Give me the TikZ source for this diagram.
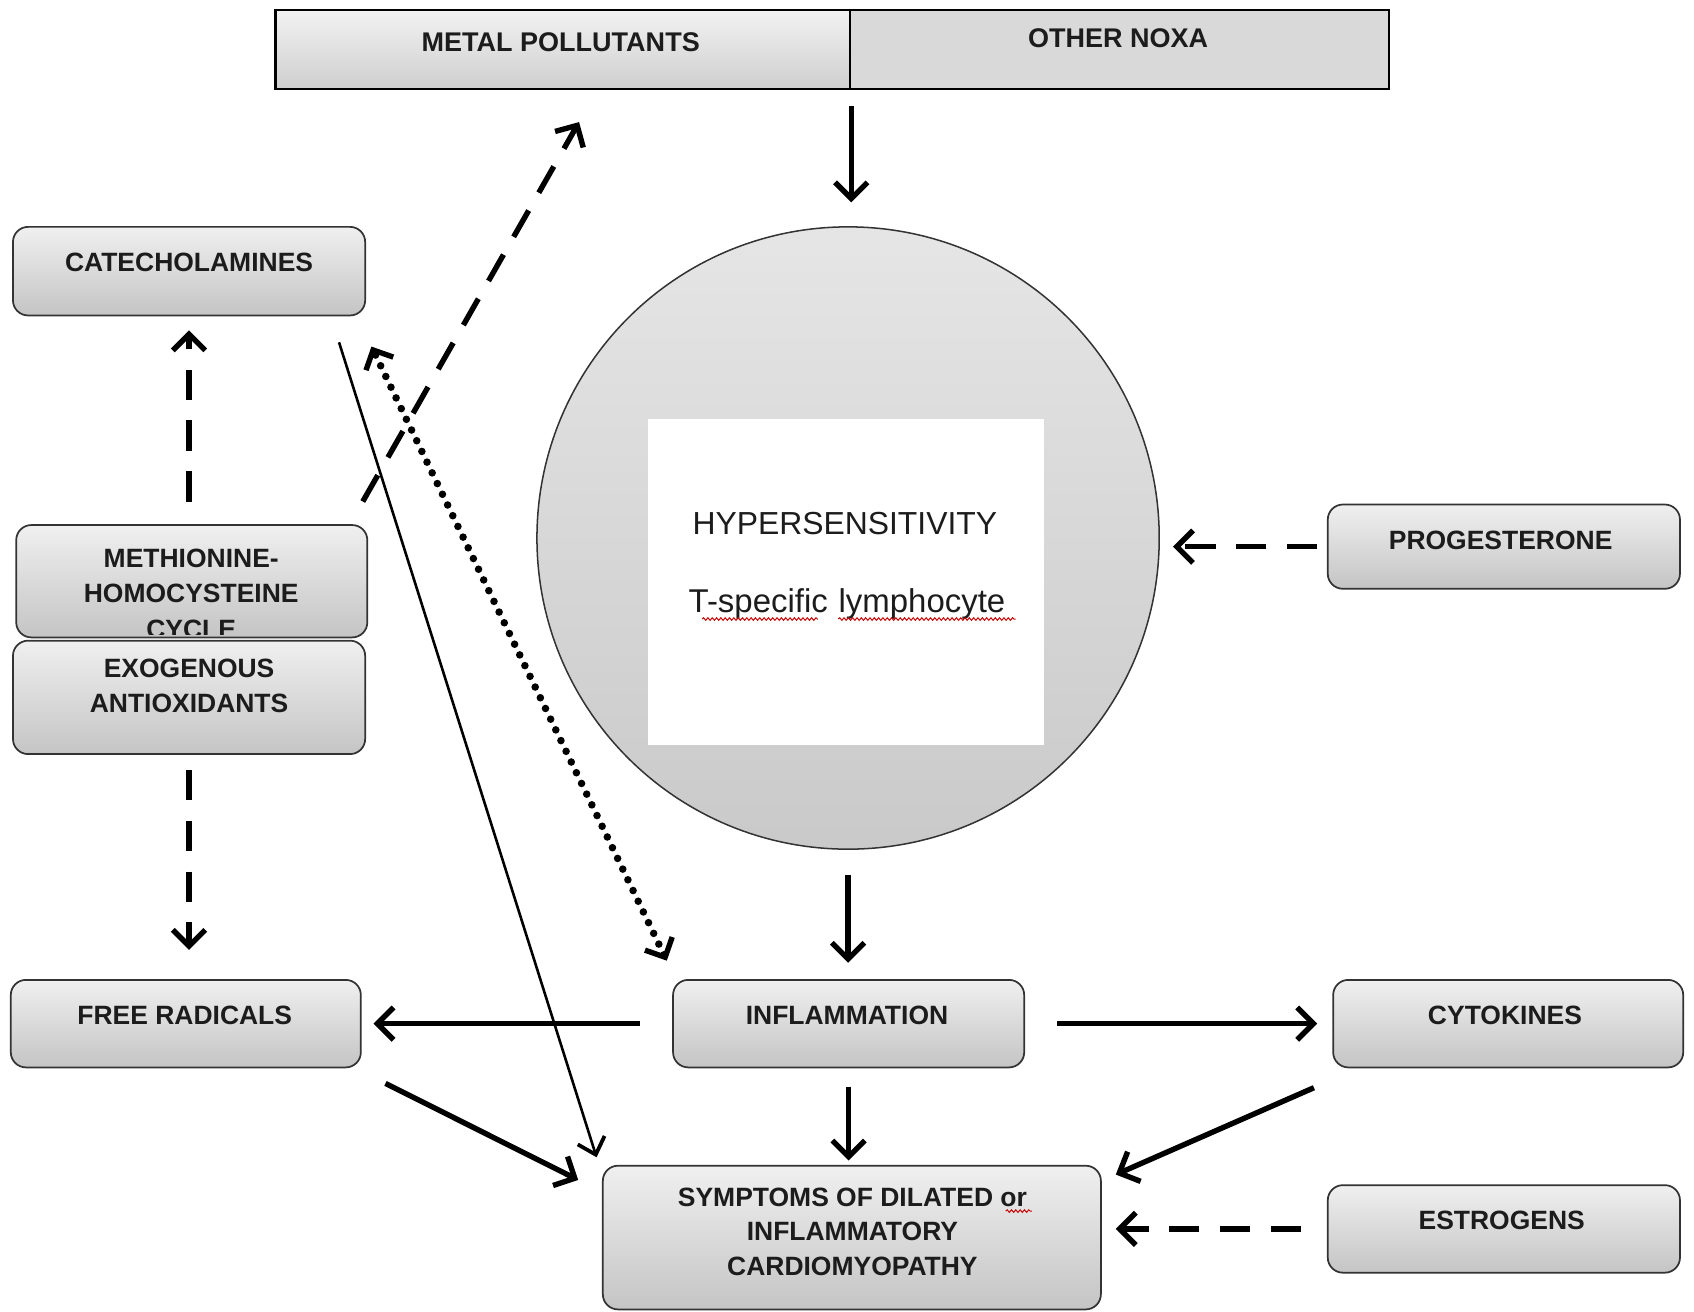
\documentclass[tikz,border=0pt]{standalone}
\usepackage{fontspec}
\setmainfont{Liberation Sans}
\usetikzlibrary{arrows.meta,calc,decorations.pathmorphing}
\definecolor{txt}{HTML}{1C1C1C}
\definecolor{bord}{HTML}{333333}
\begin{document}
\begin{tikzpicture}[x=1pt,y=-1pt,
  box/.style={draw=bord, line width=1.6pt, rounded corners=14pt,
    top color=gray!12, bottom color=gray!46, inner sep=0pt},
  lbl/.style={font=\fontsize{24.5}{32}\selectfont\bfseries, text=txt, align=center, inner sep=0pt},
  toplbl/.style={font=\fontsize{25}{30}\selectfont\bfseries, text=txt, inner sep=0pt},
  arr/.style={line width=5pt, -{Straight Barb[length=15pt,width=30pt]}},
  thinarr/.style={line width=2.4pt, -{Straight Barb[length=14pt,width=26pt,line width=3.5pt]}},
  dsh/.style={dash pattern=on 28pt off 19pt},
  dotarr/.style={line width=7pt, line cap=round, dash pattern=on 0pt off 11pt,
    {Straight Barb[length=14pt,width=28pt,line width=5pt]}-{Straight Barb[length=14pt,width=28pt,line width=5pt]}},
  squig/.style={draw=red!80!black, line width=0.9pt, decorate,
    decoration={snake, amplitude=1.2pt, segment length=4pt}}
]
\useasboundingbox (0,0) rectangle (1568,1214);

% ---- top bar
\node[draw=black, line width=2pt, top color=gray!10, bottom color=gray!38,
  minimum width=532pt, minimum height=73pt, inner sep=0pt] (metal) at (521,45.5) {};
\node[draw=black, line width=2pt, fill=gray!30,
  minimum width=499pt, minimum height=73pt, inner sep=0pt] (noxa) at (1036.5,45.5) {};
\node[toplbl] (metalT) at (519,39) {METAL POLLUTANTS};
\node[toplbl] (noxaT) at (1035,35) {OTHER NOXA};

% ---- circle
\node[circle, draw=bord, line width=1.4pt, top color=gray!20, bottom color=gray!42,
  minimum size=576pt, inner sep=0pt] (circ) at (785,498) {};
\node[fill=white, minimum width=366pt, minimum height=302pt, inner sep=0pt] (hyp) at (783,539) {};
\node[font=\fontsize{29.5}{34}\selectfont, text=txt, inner sep=0pt] (hypT) at (782,485) {HYPERSENSITIVITY};
\node[font=\fontsize{30.5}{34}\selectfont, text=txt, inner sep=0pt, text depth=0pt] (lymT) at (784,556)
  {T-specific\hspace{10pt}lymphocyte};
\draw[squig] (650,573) -- (757,573);
\draw[squig] (776,573) -- (940,573);

% ---- left column
\node[box, minimum width=326pt, minimum height=82pt] (cat) at (175,251) {};
\node[lbl] (catT) at (175,243) {CATECHOLAMINES};

\node[box, minimum width=325pt, minimum height=104pt] (meth) at (177.5,538) {};
\begin{scope}
  \clip (15,480) rectangle (340,587);
  \node[lbl, font=\fontsize{24.5}{33}\selectfont\bfseries] (methT) at (177,549.5) {METHIONINE-\\HOMOCYSTEINE\\CYCLE};
\end{scope}
\node[box, minimum width=326pt, minimum height=105pt] (exo) at (175,645.5) {};
\node[lbl] (exoT) at (175,635) {EXOGENOUS\\ANTIOXIDANTS};

\node[box, minimum width=324pt, minimum height=81pt] (free) at (172,947.5) {};
\node[lbl] (freeT) at (171,940) {FREE RADICALS};

% ---- middle / right
\node[box, minimum width=325pt, minimum height=81pt] (infl) at (785.5,947.5) {};
\node[lbl] (inflT) at (784,940) {INFLAMMATION};

\node[box, minimum width=324pt, minimum height=81pt] (cyto) at (1396,947.5) {};
\node[lbl] (cytoT) at (1393,940) {CYTOKINES};

\node[box, minimum width=326pt, minimum height=78pt] (prog) at (1392,506) {};
\node[lbl] (progT) at (1389,500) {PROGESTERONE};

\node[box, minimum width=461pt, minimum height=133pt] (symp) at (788.5,1145.5) {};
\node[lbl] (sympT) at (789,1140) {SYMPTOMS OF DILATED or\\INFLAMMATORY\\CARDIOMYOPATHY};
\draw[squig] (931,1121) -- (955,1121);

\node[box, minimum width=326pt, minimum height=81pt] (estr) at (1392,1137.5) {};
\node[lbl] (estrT) at (1390,1130) {ESTROGENS};

% ---- connectors
\draw[arr, shorten <=15pt, shorten >=22pt] (metal.south east) -- (metal.south east |- circ.north);
\draw[arr, shorten <=23pt, shorten >=15pt] (circ.south) -- (circ.south |- infl.north);
\draw[arr, shorten <=17pt, shorten >=4pt] (infl.south) -- (infl.south |- symp.north);
\draw[arr, shorten <=30pt, shorten >=11pt] (infl.west) -- (infl.west -| free.east);
\draw[arr, shorten <=30pt, shorten >=14pt] (infl.east) -- (infl.east -| cyto.west);
\draw[arr] ($(free.south east)+(22,14)$) -- ($(symp.north west)+(-22,14)$);
\draw[arr] ($(cyto.south west)+(-17,18)$) -- ($(symp.north east)+(13,9)$);
\draw[arr, dsh, shorten <=24pt, shorten >=13pt] (estr.west) -- (estr.west -| symp.east);
\draw[arr, dsh, shorten <=9pt, shorten >=12pt] (prog.west) -- (prog.west -| circ.east);
\draw[arr, dsh, shorten <=21pt, shorten >=13pt] (cat.south |- meth.north) -- (cat.south);
\draw[arr, dsh, shorten <=14pt, shorten >=27pt] (exo.south) -- (exo.south |- free.north);
\coordinate (mpIn) at ($(metal.south west)+(282,30)$);
\draw[arr, dsh] ($(meth.north east)+(-5,-21)$) -- (mpIn);
\draw[thinarr] ($(cat.south east)+(-25,24)$) -- ($(symp.north west)+(-5,-7)$);
\draw[dotarr] ($(infl.north west)+(-5,-17)$) -- ($(cat.south east)+(5,28)$);
\end{tikzpicture}
\end{document}
